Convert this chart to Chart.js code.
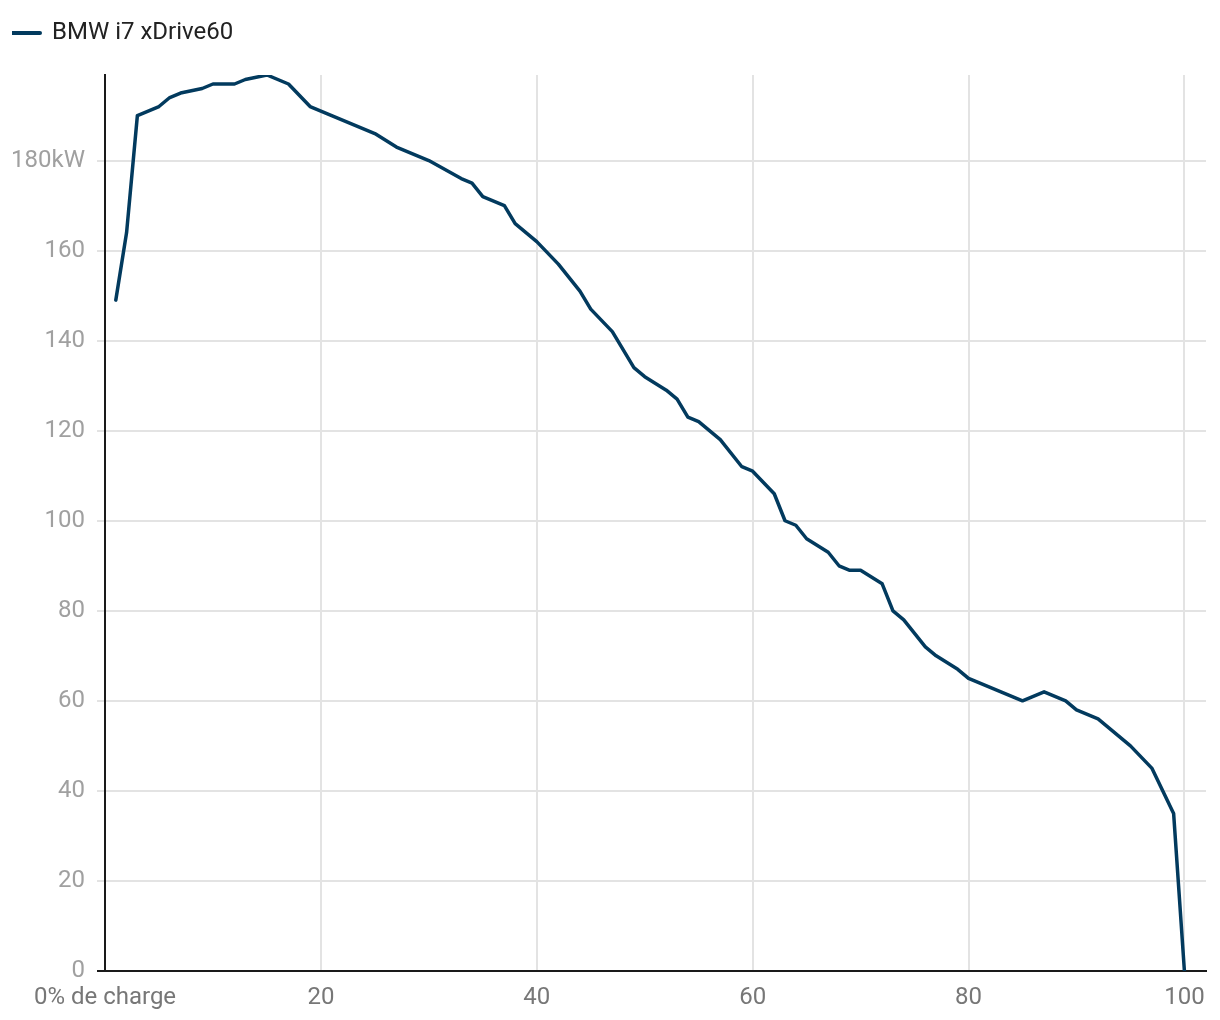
<!DOCTYPE html>
<html>
<head>
<meta charset="utf-8">
<script src="https://cdn.jsdelivr.net/npm/chart.js@4"></script>
<style>
  body { margin: 0; background: #fff; }
  #wrap { width: 1220px; height: 1020px; }
</style>
</head>
<body>
<div id="wrap"><canvas id="chart"></canvas></div>
<script>
var charge = [1, 2, 3, 5, 6, 7, 9, 10, 12, 13, 15, 17, 19, 25, 27, 30, 33, 34, 35, 37, 38, 40, 42, 44, 45, 47, 49, 50, 52, 53, 54, 55, 57, 59, 60, 62, 63, 64, 65, 67, 68, 69, 70, 72, 73, 74, 76, 77, 79, 80, 85, 87, 89, 90, 92, 95, 97, 99, 100];
var power = [149, 164, 190, 192, 194, 195, 196, 197, 197, 198, 199, 197, 192, 186, 183, 180, 176, 175, 172, 170, 166, 162, 157, 151, 147, 142, 134, 132, 129, 127, 123, 122, 118, 112, 111, 106, 100, 99, 96, 93, 90, 89, 89, 86, 80, 78, 72, 70, 67, 65, 60, 62, 60, 58, 56, 50, 45, 35, 0];
var seriesName = 'BMW i7 xDrive60';
var xTicks = [0, 20, 40, 60, 80, 100];
var yTicks = [0, 20, 40, 60, 80, 100, 120, 140, 160, 180];

var points = charge.map(function (c, i) { return { x: c, y: power[i] }; });

// leave extra room under the legend
var legendGap = {
    id: 'legendGap',
    beforeInit: function (chart) {
        var fit = chart.legend.fit;
        chart.legend.fit = function () {
            fit.call(this);
            this.height += 20;
        };
    }
};

new Chart(document.getElementById('chart'), {
    type: 'line',
    data: {
        datasets: [{
            label: seriesName,
            data: points,
            borderColor: '#023a5e',
            backgroundColor: '#023a5e',
            borderWidth: 3.5,
            borderCapStyle: 'round',
            borderJoinStyle: 'round',
            pointRadius: 0,
            pointStyle: 'line',
            tension: 0
        }]
    },
    plugins: [legendGap],
    options: {
        responsive: true,
        maintainAspectRatio: false,
        animation: false,
        layout: { padding: { top: 21, left: 12, right: 14, bottom: 0 } },
        plugins: {
            tooltip: { enabled: false },
            legend: {
                position: 'top',
                align: 'start',
                labels: {
                    usePointStyle: true,
                    pointStyleWidth: 28,
                    color: '#222',
                    font: { family: 'Roboto', size: 24 },
                    padding: 0,
                    generateLabels: function (chart) {
                        var items = Chart.defaults.plugins.legend.labels.generateLabels(chart);
                        items.forEach(function (it) {
                            it.lineWidth = 4;
                            it.lineCap = 'round';
                        });
                        return items;
                    }
                }
            }
        },
        scales: {
            x: {
                type: 'linear',
                min: 0,
                max: 102,
                afterBuildTicks: function (scale) {
                    scale.ticks = xTicks.map(function (v) { return { value: v }; });
                },
                afterFit: function (scale) { scale.height = 49; },
                grid: { color: '#e3e3e3', lineWidth: 2, drawTicks: false },
                border: { color: '#1a1a1a', width: 2 },
                ticks: {
                    color: '#777',
                    padding: 13,
                    maxRotation: 0,
                    font: { family: 'Roboto', size: 24 },
                    callback: function (v) { return v === 0 ? '0% de charge' : v; }
                }
            },
            y: {
                min: 0,
                max: 199,
                afterBuildTicks: function (scale) {
                    scale.ticks = yTicks.map(function (v) { return { value: v }; });
                },
                afterFit: function (scale) { scale.width = 93; },
                grid: {
                    color: function (c) { return c.tick && c.tick.value === 0 ? '#1a1a1a' : '#e3e3e3'; },
                    lineWidth: 2,
                    tickLength: 8
                },
                border: { color: '#1a1a1a', width: 2 },
                ticks: {
                    color: '#a0a0a0',
                    padding: 12,
                    font: { family: 'Roboto', size: 24 },
                    callback: function (v) { return v === 180 ? '180kW' : v; }
                }
            }
        }
    }
});
</script>
</body>
</html>
